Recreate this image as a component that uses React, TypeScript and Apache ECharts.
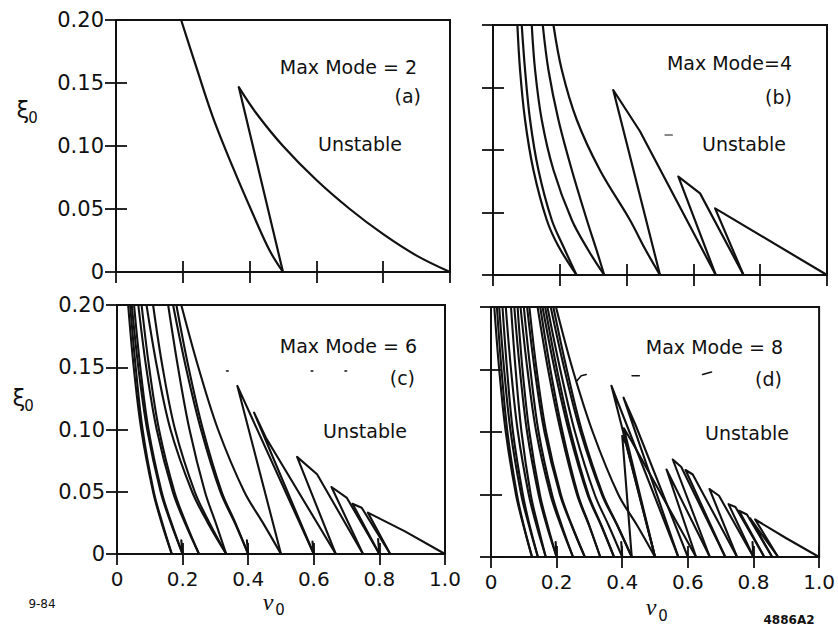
import React, { useEffect, useRef } from "react";
import * as echarts from "echarts";

// Tick labels
const nuTicks = ["0", "0.2", "0.4", "0.6", "0.8", "1.0"];
const xiTicks = ["0", "0.05", "0.10", "0.15", "0.20"];

// (a) Max Mode = 2 : smooth boundary arcs and straight edges, [nu0, xi0]
const modeTwoArcs = [
  [[0.195, 0.2], [0.24, 0.163], [0.29, 0.123], [0.35, 0.083], [0.41, 0.046], [0.46, 0.017], [0.5, 0]],
  [[0.368, 0.1465], [0.42, 0.126], [0.5, 0.1], [0.6, 0.073], [0.7, 0.05], [0.8, 0.03], [0.9, 0.013], [1.0, 0]],
];
const modeTwoEdges = [
  [[0.5, 0], [0.368, 0.1465]],
];

// (b) Max Mode = 4
const modeFourArcs = [
  [[0.073, 0.2], [0.081, 0.164], [0.096, 0.124], [0.121, 0.084], [0.161, 0.044], [0.196, 0.023], [0.25, 0]],
  [[0.086, 0.2], [0.096, 0.164], [0.111, 0.124], [0.136, 0.084], [0.176, 0.044], [0.212, 0.022], [0.25, 0]],
  [[0.116, 0.2], [0.126, 0.164], [0.146, 0.124], [0.181, 0.084], [0.236, 0.044], [0.285, 0.02], [0.333, 0]],
  [[0.149, 0.2], [0.166, 0.164], [0.196, 0.124], [0.236, 0.084], [0.281, 0.044], [0.31, 0.02], [0.333, 0]],
  [[0.181, 0.2], [0.206, 0.164], [0.251, 0.124], [0.32, 0.084], [0.41, 0.044], [0.455, 0.021], [0.5, 0]],
];
const modeFourEdges = [
  [[0.5, 0], [0.36, 0.148], [0.44, 0.115], [0.667, 0]],
  [[0.667, 0], [0.555, 0.0787], [0.62, 0.0653], [0.75, 0]],
  [[0.75, 0], [0.665, 0.0533], [1.0, 0]],
];
const modeFourSpecks = [
  [[0.515, 0.112], [0.537, 0.112]],
];

// (c) Max Mode = 6
const modeSixArcs = [
  [[0.034, 0.2], [0.051, 0.15], [0.074, 0.1], [0.11, 0.05], [0.136, 0.025], [0.167, 0]],
  [[0.04, 0.2], [0.057, 0.15], [0.078, 0.1], [0.112, 0.05], [0.138, 0.025], [0.167, 0]],
  [[0.045, 0.2], [0.065, 0.15], [0.092, 0.1], [0.133, 0.05], [0.164, 0.025], [0.2, 0]],
  [[0.052, 0.2], [0.071, 0.15], [0.096, 0.1], [0.136, 0.05], [0.166, 0.025], [0.2, 0]],
  [[0.065, 0.2], [0.089, 0.15], [0.121, 0.1], [0.17, 0.05], [0.207, 0.025], [0.25, 0]],
  [[0.075, 0.2], [0.098, 0.15], [0.128, 0.1], [0.175, 0.05], [0.21, 0.025], [0.25, 0]],
  [[0.09, 0.2], [0.122, 0.15], [0.163, 0.1], [0.229, 0.05], [0.277, 0.025], [0.333, 0]],
  [[0.11, 0.2], [0.139, 0.15], [0.177, 0.1], [0.237, 0.05], [0.282, 0.025], [0.333, 0]],
  [[0.156, 0.2], [0.186, 0.15], [0.221, 0.1], [0.268, 0.05], [0.301, 0.025], [0.333, 0]],
  [[0.171, 0.2], [0.21, 0.15], [0.256, 0.1], [0.315, 0.05], [0.359, 0.025], [0.4, 0]],
  [[0.181, 0.2], [0.218, 0.15], [0.262, 0.1], [0.319, 0.05], [0.361, 0.025], [0.4, 0]],
  [[0.196, 0.2], [0.248, 0.15], [0.308, 0.1], [0.388, 0.05], [0.445, 0.025], [0.5, 0]],
];
const modeSixEdges = [
  [[0.5, 0], [0.367, 0.135], [0.6, 0]],
  [[0.6, 0], [0.418, 0.1135], [0.454, 0.0934], [0.667, 0]],
  [[0.667, 0], [0.549, 0.078], [0.61, 0.064], [0.75, 0]],
  [[0.75, 0], [0.654, 0.0538], [0.701, 0.045], [0.8, 0]],
  [[0.8, 0], [0.718, 0.0404], [0.746, 0.0372], [0.833, 0]],
  [[0.833, 0], [0.765, 0.0332], [0.878, 0.0182], [1.0, 0]],
  [[0.196, 0.011], [0.2, 0]],
  [[0.396, 0.011], [0.4, 0]],
  [[0.596, 0.01], [0.6, 0]],
  [[0.796, 0.012], [0.8, 0]],
];
const modeSixSpecks = [
  [[0.334, 0.147], [0.339, 0.147]],
  [[0.592, 0.147], [0.597, 0.147]],
  [[0.695, 0.147], [0.7, 0.147]],
];

// (d) Max Mode = 8
const modeEightArcs = [
  [[0.01, 0.2], [0.025, 0.15], [0.045, 0.1], [0.076, 0.05], [0.099, 0.025], [0.125, 0]],
  [[0.018, 0.2], [0.032, 0.15], [0.05, 0.1], [0.079, 0.05], [0.1, 0.025], [0.125, 0]],
  [[0.025, 0.2], [0.04, 0.15], [0.06, 0.1], [0.092, 0.05], [0.116, 0.025], [0.143, 0]],
  [[0.035, 0.2], [0.049, 0.15], [0.067, 0.1], [0.097, 0.05], [0.118, 0.025], [0.143, 0]],
  [[0.045, 0.2], [0.061, 0.15], [0.082, 0.1], [0.115, 0.05], [0.139, 0.025], [0.167, 0]],
  [[0.061, 0.2], [0.075, 0.15], [0.093, 0.1], [0.121, 0.05], [0.143, 0.025], [0.167, 0]],
  [[0.071, 0.2], [0.088, 0.15], [0.11, 0.1], [0.145, 0.05], [0.17, 0.025], [0.2, 0]],
  [[0.081, 0.2], [0.096, 0.15], [0.117, 0.1], [0.149, 0.05], [0.173, 0.025], [0.2, 0]],
  [[0.09, 0.2], [0.111, 0.15], [0.138, 0.1], [0.181, 0.05], [0.213, 0.025], [0.25, 0]],
  [[0.1, 0.2], [0.12, 0.15], [0.145, 0.1], [0.186, 0.05], [0.216, 0.025], [0.25, 0]],
  [[0.11, 0.2], [0.133, 0.15], [0.163, 0.1], [0.21, 0.05], [0.246, 0.025], [0.286, 0]],
  [[0.117, 0.2], [0.139, 0.15], [0.168, 0.1], [0.213, 0.05], [0.247, 0.025], [0.286, 0]],
  [[0.142, 0.2], [0.174, 0.15], [0.213, 0.1], [0.262, 0.05], [0.299, 0.025], [0.333, 0]],
  [[0.15, 0.2], [0.181, 0.15], [0.218, 0.1], [0.265, 0.05], [0.3, 0.025], [0.333, 0]],
  [[0.157, 0.2], [0.194, 0.15], [0.238, 0.1], [0.294, 0.05], [0.336, 0.025], [0.375, 0]],
  [[0.165, 0.2], [0.201, 0.15], [0.243, 0.1], [0.297, 0.05], [0.337, 0.025], [0.375, 0]],
  [[0.172, 0.2], [0.211, 0.15], [0.256, 0.1], [0.316, 0.05], [0.359, 0.025], [0.4, 0]],
  [[0.182, 0.2], [0.224, 0.15], [0.273, 0.1], [0.338, 0.05], [0.385, 0.025], [0.429, 0]],
  [[0.19, 0.2], [0.231, 0.15], [0.278, 0.1], [0.341, 0.05], [0.386, 0.025], [0.429, 0]],
  [[0.198, 0.2], [0.249, 0.15], [0.31, 0.1], [0.388, 0.05], [0.446, 0.025], [0.5, 0]],
];
const modeEightEdges = [
  [[0.5, 0], [0.367, 0.137], [0.571, 0]],
  [[0.571, 0], [0.404, 0.1275], [0.44, 0.106], [0.6, 0]],
  [[0.5, 0], [0.405, 0.103], [0.43, 0.092], [0.625, 0]],
  [[0.429, 0], [0.4, 0.097], [0.412, 0.09], [0.5, 0]],
  [[0.625, 0], [0.535, 0.07], [0.667, 0]],
  [[0.667, 0], [0.554, 0.078], [0.58, 0.072], [0.714, 0]],
  [[0.714, 0], [0.593, 0.0696], [0.615, 0.066], [0.75, 0]],
  [[0.75, 0], [0.666, 0.0544], [0.695, 0.049], [0.8, 0]],
  [[0.8, 0], [0.724, 0.0423], [0.745, 0.04], [0.833, 0]],
  [[0.833, 0], [0.756, 0.037], [0.78, 0.034], [0.857, 0]],
  [[0.857, 0], [0.79, 0.031], [0.875, 0]],
  [[0.875, 0], [0.805, 0.03], [0.9, 0.015], [1.0, 0]],
  [[0.197, 0.012], [0.2, 0]],
  [[0.397, 0.012], [0.4, 0]],
  [[0.797, 0.012], [0.8, 0]],
];
const modeEightSpecks = [
  [[0.262, 0.141], [0.275, 0.145], [0.29, 0.146]],
  [[0.43, 0.145], [0.452, 0.145]],
  [[0.645, 0.146], [0.672, 0.148]],
];

const panelNotes = [
  { mode: "Max Mode = 2", tag: "(a)" },
  { mode: "Max Mode=4", tag: "(b)" },
  { mode: "Max Mode = 6", tag: "(c)" },
  { mode: "Max Mode = 8", tag: "(d)" },
];

// Plot frames, in pixels
const frames = [
  { left: 116, top: 20, width: 334, height: 252 },
  { left: 493, top: 25, width: 334, height: 250 },
  { left: 117, top: 305, width: 328, height: 249 },
  { left: 491, top: 307, width: 329, height: 250 },
];

const INK = "#111";
const SANS = "DejaVu Sans";

function buildOption() {
  const grids = frames.map((f) => ({
    ...f,
    show: true,
    borderColor: INK,
    borderWidth: 2,
    backgroundColor: "transparent",
    containLabel: false,
  }));

  const tick = { show: true, inside: true, length: 11, lineStyle: { color: INK, width: 1.8 } };

  const xAxes: any[] = [];
  const yAxes: any[] = [];
  frames.forEach((_, i) => {
    const showX = i >= 2;
    const showY = i % 2 === 0;
    ["bottom", "top"].forEach((pos) => {
      xAxes.push({
        type: "value",
        gridIndex: i,
        position: pos,
        min: 0,
        max: 1,
        interval: 0.2,
        axisLine: { show: false },
        splitLine: { show: false },
        axisTick: tick,
        axisLabel:
          pos === "bottom" && showX
            ? {
                show: true,
                margin: 15,
                fontSize: 20,
                fontFamily: SANS,
                color: INK,
                showMinLabel: true,
                showMaxLabel: true,
                formatter: (v: number) => nuTicks[Math.round(v / 0.2)],
              }
            : { show: false },
      });
    });
    ["left", "right"].forEach((pos) => {
      yAxes.push({
        type: "value",
        gridIndex: i,
        position: pos,
        min: 0,
        max: 0.2,
        interval: 0.05,
        axisLine: { show: false },
        splitLine: { show: false },
        axisTick: tick,
        axisLabel:
          pos === "left" && showY
            ? {
                show: true,
                margin: 12,
                fontSize: 21,
                fontFamily: SANS,
                color: INK,
                showMinLabel: true,
                showMaxLabel: true,
                formatter: (v: number) => xiTicks[Math.round(v / 0.05)],
              }
            : { show: false },
      });
    });
  });

  const series: any[] = [];
  const addLines = (curves: number[][][], panel: number, smooth: boolean, width: number) => {
    curves.forEach((pts) => {
      series.push({
        type: "line",
        xAxisIndex: panel * 2,
        yAxisIndex: panel * 2,
        data: pts,
        symbol: "none",
        showSymbol: false,
        smooth: smooth ? 0.35 : false,
        lineStyle: { color: INK, width, cap: "round", join: "round" },
        silent: true,
        z: 3,
      });
    });
  };
  addLines(modeTwoArcs, 0, true, 2.2);
  addLines(modeTwoEdges, 0, false, 2.2);
  addLines(modeFourArcs, 1, true, 2.2);
  addLines(modeFourEdges, 1, false, 2.2);
  addLines(modeFourSpecks, 1, false, 1.2);
  addLines(modeSixArcs, 2, true, 2.1);
  addLines(modeSixEdges, 2, false, 2.1);
  addLines(modeSixSpecks, 2, false, 1.6);
  addLines(modeEightArcs, 3, true, 2.1);
  addLines(modeEightEdges, 3, false, 2.1);
  addLines(modeEightSpecks, 3, false, 1.6);

  const txt = (x: number, y: number, text: string, size: number, align: string, extra: any = {}) => ({
    type: "text",
    x,
    y,
    silent: true,
    style: {
      text,
      fill: INK,
      fontSize: size,
      fontFamily: SANS,
      textAlign: align,
      align,
      textVerticalAlign: "middle",
      verticalAlign: "middle",
      ...extra,
    },
  });

  const notePos = [
    { mx: 417, my: 67, tx: 421, ty: 96, ux: 360, uy: 144 },
    { mx: 792, my: 63, tx: 792, ty: 97, ux: 744, uy: 144 },
    { mx: 417, my: 346, tx: 415, ty: 378, ux: 365, uy: 431 },
    { mx: 783, my: 347, tx: 782, ty: 379, ux: 747, uy: 433 },
  ];

  const graphic: any[] = [];
  panelNotes.forEach((n, i) => {
    const p = notePos[i];
    graphic.push(txt(p.mx, p.my, n.mode, 19, "right"));
    graphic.push(txt(p.tx, p.ty, n.tag, 19, "right"));
    graphic.push(txt(p.ux, p.uy, "Unstable", 19, "center"));
  });

  // axis names: xi_0 on the left, nu_0 below
  graphic.push(txt(23, 110, "ξ", 23, "center"));
  graphic.push(txt(33, 118, "0", 15, "center"));
  graphic.push(txt(19, 398, "ξ", 23, "center"));
  graphic.push(txt(29, 406, "0", 15, "center"));
  graphic.push(txt(268, 602, "ν", 24, "center", { fontFamily: "Liberation Serif", fontStyle: "italic" }));
  graphic.push(txt(280, 610, "0", 15, "center"));
  graphic.push(txt(651, 607, "ν", 24, "center", { fontFamily: "Liberation Serif", fontStyle: "italic" }));
  graphic.push(txt(663, 616, "0", 15, "center"));

  // figure codes
  graphic.push(txt(42, 604, "9-84", 12, "center"));
  graphic.push(txt(789, 620, "4886A2", 12, "center", { fontWeight: "bold" }));

  return {
    animation: false,
    backgroundColor: "#ffffff",
    grid: grids,
    xAxis: xAxes,
    yAxis: yAxes,
    series,
    graphic,
  };
}

export default function App() {
  const ref = useRef<HTMLDivElement>(null);
  useEffect(() => {
    if (!ref.current) return;
    const chart = echarts.init(ref.current, undefined, { renderer: "svg" });
    chart.setOption(buildOption() as any);
    return () => chart.dispose();
  }, []);
  return (
    <div
      ref={ref}
      style={{ position: "fixed", left: 0, top: 0, width: 838, height: 632, background: "#fff" }}
    />
  );
}
